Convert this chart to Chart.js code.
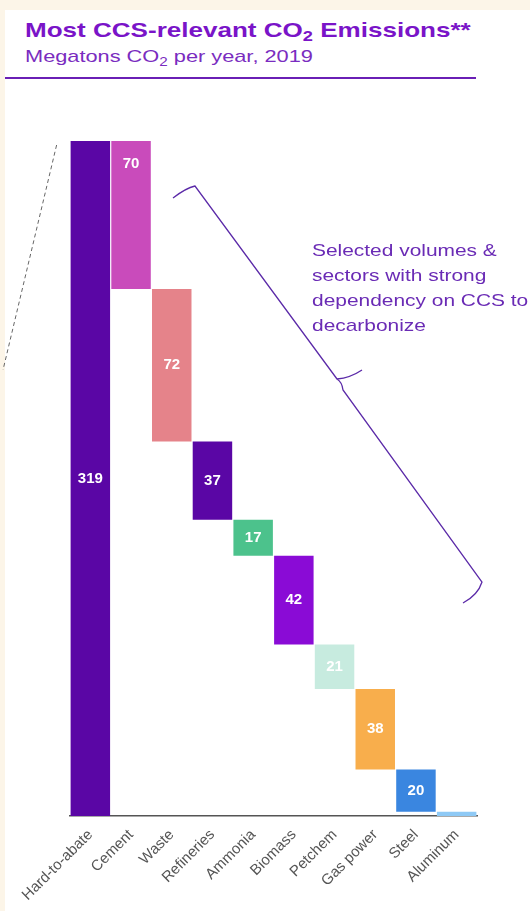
<!DOCTYPE html>
<html>
<head>
<meta charset="utf-8">
<script src="https://cdn.jsdelivr.net/npm/chart.js@4.4.1/dist/chart.umd.min.js"></script>
<style>
  body { margin: 0; background: #fcf5e8; font-family: "Liberation Sans", Arial, sans-serif; }
  .panel { position: absolute; left: 5px; top: 10px; right: 0; bottom: 0; background: #fff; }
  .title, .subtitle, .note { transform-origin: 0 0; white-space: nowrap; }
  .title { position: absolute; left: 25px; top: 18px; font-size: 21px; font-weight: bold; color: #7a14c8; transform: scaleX(1.24); }
  .subtitle { position: absolute; left: 25px; top: 47px; font-size: 17px; color: #7a2cc0; transform: scaleX(1.28); }
  sub { font-size: 0.7em; vertical-align: -0.3em; }
  .rule { position: absolute; left: 5px; top: 77px; width: 471px; height: 2px; background: #6a1fb5; }
  .note { position: absolute; left: 312px; top: 238px; font-size: 17px; line-height: 25px; color: #6a2bb5; transform: scaleX(1.23); }
  #wrap { position: absolute; left: 0; top: 0; width: 530px; height: 911px; }
</style>
</head>
<body>
<div class="panel"></div>
<div class="title">Most CCS-relevant CO<sub>2</sub> Emissions**</div>
<div class="subtitle">Megatons CO<sub>2</sub> per year, 2019</div>
<div class="rule"></div>
<div id="wrap"><canvas id="chart"></canvas></div>
<div class="note">Selected volumes &amp;<br>sectors with strong<br>dependency on CCS to<br>decarbonize</div>
<script>
// categories and values (Mt CO2 per year)
const categories = ['Hard-to-abate', 'Cement', 'Waste', 'Refineries', 'Ammonia', 'Biomass', 'Petchem', 'Gas power', 'Steel', 'Aluminum'];
const totalValue = 319;
const sectorValues = [70, 72, 37, 17, 42, 21, 38, 20, 2];
const barColors = ['#5a06a5', '#c94bbb', '#e5838a', '#5a06a5', '#4cc28c', '#8a0bd6', '#c7ebdf', '#f8ae4c', '#3a86e0', '#8ec9f5'];

// waterfall: first bar is the total, the rest step down from it
const ranges = [[0, totalValue]];
let level = totalValue;
sectorValues.forEach(v => {
  ranges.push([level - v, level]);
  level -= v;
});
const labelValues = [totalValue].concat(sectorValues);

const extras = {
  id: 'extras',
  afterDatasetsDraw(chart) {
    const ctx = chart.ctx;
    const meta = chart.getDatasetMeta(0);
    ctx.save();
    // value labels
    ctx.fillStyle = '#fff';
    ctx.font = 'bold 15px "Liberation Sans", Arial, sans-serif';
    ctx.textAlign = 'center';
    ctx.textBaseline = 'middle';
    meta.data.forEach((bar, i) => {
      if (labelValues[i] < 5) return;
      let y = (bar.y + bar.base) / 2;
      if (i === 1) y = bar.y + 23;
      ctx.fillText(labelValues[i], bar.x, y);
    });

    // dashed zoom line on the left
    const first = meta.data[0];
    const left = first.x - first.width / 2;
    ctx.strokeStyle = '#666';
    ctx.lineWidth = 1;
    ctx.setLineDash([4, 3]);
    ctx.beginPath();
    ctx.moveTo(left - 14, first.y + 4);
    ctx.lineTo(3, first.y + 229);
    ctx.stroke();
    ctx.setLineDash([]);

    // brace
    ctx.strokeStyle = '#5b2aa8';
    ctx.lineWidth = 1.3;
    ctx.beginPath();
    ctx.moveTo(173, 198);
    ctx.quadraticCurveTo(186, 188, 195, 186);
    ctx.lineTo(337, 379);
    ctx.quadraticCurveTo(350, 378, 362, 370);
    ctx.moveTo(337, 379);
    ctx.quadraticCurveTo(342, 382, 343, 390);
    ctx.lineTo(482, 582);
    ctx.quadraticCurveTo(478, 595, 463, 603);
    ctx.stroke();
    ctx.restore();
  }
};

new Chart(document.getElementById('chart'), {
  type: 'bar',
  data: {
    labels: categories,
    datasets: [{
      data: ranges,
      backgroundColor: barColors,
      borderWidth: 0,
      borderSkipped: false,
      barPercentage: 0.97,
      categoryPercentage: 1
    }]
  },
  options: {
    responsive: true,
    maintainAspectRatio: false,
    animation: false,
    layout: { padding: { left: 70, right: 53, top: 141, bottom: 0 } },
    plugins: { legend: { display: false }, tooltip: { enabled: false } },
    scales: {
      x: {
        grid: { display: false },
        border: { display: true, color: '#555', width: 1.5 },
        ticks: {
          color: '#555',
          font: { size: 15, family: '"Liberation Sans", Arial, sans-serif' },
          minRotation: 45,
          maxRotation: 45,
          padding: 2
        },
        afterFit: scale => { scale.height = 95; }
      },
      y: {
        display: false,
        min: 0,
        max: totalValue
      }
    }
  },
  plugins: [extras]
});
</script>
</body>
</html>
